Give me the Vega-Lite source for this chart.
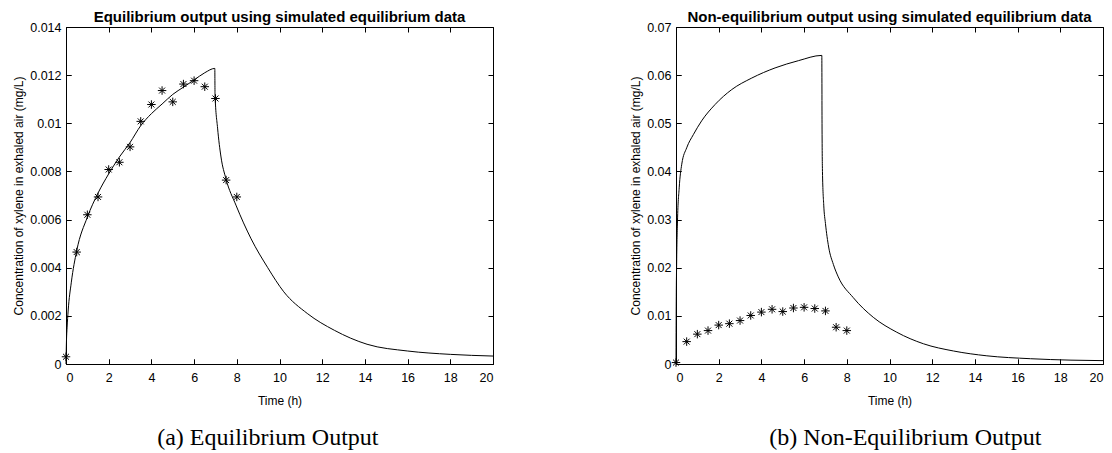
{
  "$schema": "https://vega.github.io/schema/vega-lite/v6.json",
  "background": "white",
  "padding": {"left": 12, "top": 9, "right": 5, "bottom": 1},
  "datasets": {
    "curveA": [
      {"t": 0, "v": 0}, {"t": 0.02, "v": 0.0009}, {"t": 0.05, "v": 0.0015}, {"t": 0.1, "v": 0.0022},
      {"t": 0.25, "v": 0.0034}, {"t": 0.5, "v": 0.0047}, {"t": 1, "v": 0.0061}, {"t": 1.5, "v": 0.0071},
      {"t": 2, "v": 0.0079}, {"t": 2.5, "v": 0.0086}, {"t": 3, "v": 0.0092}, {"t": 3.5, "v": 0.0099},
      {"t": 4, "v": 0.0104}, {"t": 4.5, "v": 0.0108}, {"t": 5, "v": 0.0112}, {"t": 5.5, "v": 0.0115},
      {"t": 6, "v": 0.0118}, {"t": 6.5, "v": 0.0121}, {"t": 6.97, "v": 0.01228}, {"t": 6.98, "v": 0.0112},
      {"t": 7.1, "v": 0.0098}, {"t": 7.26, "v": 0.0086}, {"t": 7.49, "v": 0.0077}, {"t": 7.96, "v": 0.0066},
      {"t": 8.67, "v": 0.0052}, {"t": 9.45, "v": 0.004}, {"t": 10.2, "v": 0.003}, {"t": 11.3, "v": 0.0021},
      {"t": 12.57, "v": 0.0014}, {"t": 14.1, "v": 0.00082}, {"t": 16, "v": 0.00054}, {"t": 18, "v": 0.0004},
      {"t": 20, "v": 0.00033}
    ],
    "curveB": [
      {"t": 0, "v": 0}, {"t": 0.01, "v": 0.012}, {"t": 0.03, "v": 0.021}, {"t": 0.07, "v": 0.0297},
      {"t": 0.15, "v": 0.0366}, {"t": 0.27, "v": 0.0415}, {"t": 0.5, "v": 0.0449}, {"t": 0.82, "v": 0.0477},
      {"t": 1.2, "v": 0.0505}, {"t": 1.83, "v": 0.0539}, {"t": 2.61, "v": 0.057}, {"t": 3.55, "v": 0.0594},
      {"t": 4.64, "v": 0.0615}, {"t": 5.73, "v": 0.063}, {"t": 6.83, "v": 0.0641}, {"t": 6.84, "v": 0.05},
      {"t": 6.86, "v": 0.04}, {"t": 6.92, "v": 0.033}, {"t": 7.0, "v": 0.0292}, {"t": 7.15, "v": 0.0243},
      {"t": 7.37, "v": 0.0207}, {"t": 7.6, "v": 0.0181}, {"t": 8.3, "v": 0.0138}, {"t": 9.24, "v": 0.0097},
      {"t": 10.34, "v": 0.0066}, {"t": 11.59, "v": 0.0042}, {"t": 13.0, "v": 0.0027}, {"t": 14.56, "v": 0.0017},
      {"t": 16.6, "v": 0.0011}, {"t": 18.5, "v": 0.0008}, {"t": 20, "v": 0.0007}
    ],
    "stars": [
      {"t": 0, "v": 0.0003}, {"t": 0.5, "v": 0.00465}, {"t": 1, "v": 0.0062}, {"t": 1.5, "v": 0.00694},
      {"t": 2, "v": 0.00808}, {"t": 2.5, "v": 0.00838}, {"t": 3, "v": 0.00902}, {"t": 3.5, "v": 0.01008},
      {"t": 4, "v": 0.01078}, {"t": 4.5, "v": 0.01136}, {"t": 5, "v": 0.01089}, {"t": 5.5, "v": 0.01163},
      {"t": 6, "v": 0.01177}, {"t": 6.5, "v": 0.01152}, {"t": 7, "v": 0.01103}, {"t": 7.5, "v": 0.00764},
      {"t": 8, "v": 0.00694}
    ]
  },
  "hconcat": [
    {
      "title": {"text": "(a) Equilibrium Output", "orient": "bottom", "anchor": "middle", "font": "Liberation Serif", "fontSize": 24, "fontWeight": "normal", "color": "black", "offset": 19, "dx": 14},
      "vconcat": [
        {
          "width": 427, "height": 337,
          "title": {"text": "Equilibrium output using simulated equilibrium data", "font": "Liberation Sans", "fontSize": 15, "fontWeight": "bold", "color": "black", "offset": -4, "anchor": "middle"},
          "resolve": {"axis": {"x": "independent", "y": "independent"}},
          "layer": [
            {
              "data": {"name": "curveA"},
              "mark": {"type": "line", "color": "black", "strokeWidth": 1, "interpolate": "monotone"},
              "encoding": {
                "x": {"field": "t", "type": "quantitative", "scale": {"domain": [0, 20], "nice": false},
                      "axis": {"values": [0, 2, 4, 6, 8, 10, 12, 14, 16, 18, 20], "title": "Time (h)", "titlePadding": 12, "labelPadding": 7}},
                "y": {"field": "v", "type": "quantitative", "scale": {"domain": [0, 0.014], "nice": false},
                      "axis": {"values": [0, 0.002, 0.004, 0.006, 0.008, 0.01, 0.012, 0.014], "format": "~g", "title": "Concentration of xylene in exhaled air (mg/L)", "titlePadding": 4, "labelPadding": 5}}
              }
            },
            {
              "data": {"name": "stars"},
              "mark": {"type": "point", "shape": "M-1,0L1,0M0,-1L0,1M-0.7,-0.7L0.7,0.7M-0.7,0.7L0.7,-0.7", "size": 72, "color": "black", "strokeWidth": 1, "filled": false, "opacity": 1},
              "encoding": {
                "x": {"field": "t", "type": "quantitative", "axis": {"orient": "top", "labels": false, "title": null, "values": [0, 2, 4, 6, 8, 10, 12, 14, 16, 18, 20]}},
                "y": {"field": "v", "type": "quantitative", "axis": {"orient": "right", "labels": false, "title": null, "values": [0, 0.002, 0.004, 0.006, 0.008, 0.01, 0.012, 0.014]}}
              }
            },
            {
              "data": {"name": "stars"},
              "mark": {"type": "point", "opacity": 0},
              "encoding": {
                "x": {"field": "t", "type": "quantitative", "axis": {"orient": "bottom", "labels": false, "title": null, "values": [0, 2, 4, 6, 8, 10, 12, 14, 16, 18, 20]}},
                "y": {"field": "v", "type": "quantitative", "axis": {"orient": "left", "labels": false, "title": null, "values": [0, 0.002, 0.004, 0.006, 0.008, 0.01, 0.012, 0.014]}}
              }
            }
          ]
        }
      ]
    },
    {
      "title": {"text": "(b) Non-Equilibrium Output", "orient": "bottom", "anchor": "middle", "font": "Liberation Serif", "fontSize": 24, "fontWeight": "normal", "color": "black", "offset": 19, "dx": 38},
      "vconcat": [
        {
          "width": 427, "height": 337,
          "title": {"text": "Non-equilibrium output using simulated equilibrium data", "font": "Liberation Sans", "fontSize": 15, "fontWeight": "bold", "color": "black", "offset": -4, "anchor": "middle"},
          "resolve": {"axis": {"x": "independent", "y": "independent"}},
          "layer": [
            {
              "data": {"name": "curveB"},
              "mark": {"type": "line", "color": "black", "strokeWidth": 1, "interpolate": "monotone"},
              "encoding": {
                "x": {"field": "t", "type": "quantitative", "scale": {"domain": [0, 20], "nice": false},
                      "axis": {"values": [0, 2, 4, 6, 8, 10, 12, 14, 16, 18, 20], "title": "Time (h)", "titlePadding": 12, "labelPadding": 7}},
                "y": {"field": "v", "type": "quantitative", "scale": {"domain": [0, 0.07], "nice": false},
                      "axis": {"values": [0, 0.01, 0.02, 0.03, 0.04, 0.05, 0.06, 0.07], "format": "~g", "title": "Concentration of xylene in exhaled air (mg/L)", "titlePadding": 4, "labelPadding": 5}}
              }
            },
            {
              "data": {"name": "stars"},
              "mark": {"type": "point", "shape": "M-1,0L1,0M0,-1L0,1M-0.7,-0.7L0.7,0.7M-0.7,0.7L0.7,-0.7", "size": 72, "color": "black", "strokeWidth": 1, "filled": false, "opacity": 1},
              "encoding": {
                "x": {"field": "t", "type": "quantitative", "axis": {"orient": "top", "labels": false, "title": null, "values": [0, 2, 4, 6, 8, 10, 12, 14, 16, 18, 20]}},
                "y": {"field": "v", "type": "quantitative", "axis": {"orient": "right", "labels": false, "title": null, "values": [0, 0.01, 0.02, 0.03, 0.04, 0.05, 0.06, 0.07]}}
              }
            },
            {
              "data": {"name": "stars"},
              "mark": {"type": "point", "opacity": 0},
              "encoding": {
                "x": {"field": "t", "type": "quantitative", "axis": {"orient": "bottom", "labels": false, "title": null, "values": [0, 2, 4, 6, 8, 10, 12, 14, 16, 18, 20]}},
                "y": {"field": "v", "type": "quantitative", "axis": {"orient": "left", "labels": false, "title": null, "values": [0, 0.01, 0.02, 0.03, 0.04, 0.05, 0.06, 0.07]}}
              }
            }
          ]
        }
      ]
    }
  ],
  "spacing": 133,
  "config": {
    "font": "Liberation Sans",
    "view": {"stroke": "black", "strokeWidth": 1},
    "axis": {
      "domain": false, "offset": -5, "ticks": true, "tickSize": 5, "tickColor": "black", "tickWidth": 1, "labelColor": "black", "titleColor": "black",
      "labelFont": "Liberation Sans", "titleFont": "Liberation Sans", "labelFontSize": 12.5, "titleFontSize": 12,
      "titleFontWeight": "normal", "grid": false, "zindex": 1
    }
  }
}
